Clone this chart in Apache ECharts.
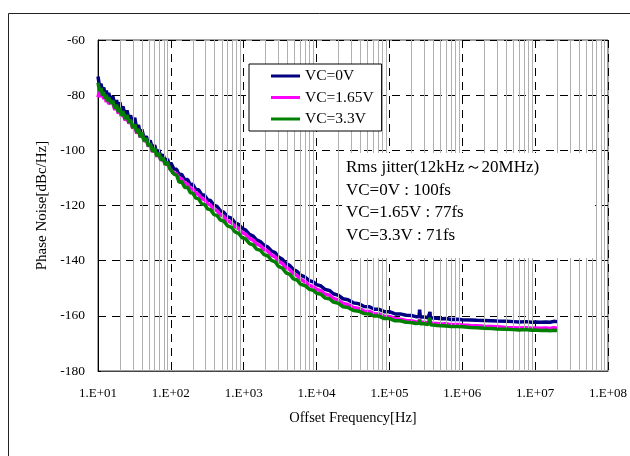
<!DOCTYPE html>
<html><head><meta charset="utf-8">
<script src="https://cdn.jsdelivr.net/npm/echarts@6/dist/echarts.min.js"></script>
<style>html,body{margin:0;padding:0;background:#fff}#c{width:630px;height:456px}</style>
</head><body><div id="c"></div>
<script>
// Offset frequency [Hz]
const freqHz = [
  10, 10.5, 11, 11.5, 12, 12.5, 13, 13.5, 14, 15,
  16, 17, 18, 19, 20, 21, 22, 23.5, 25, 26.5,
  28, 30, 32, 34, 36, 38, 40, 43, 46, 49,
  52, 56, 60, 64, 68, 73, 78, 84, 90, 96,
  100, 110, 120, 130, 140, 155, 170, 185, 200, 220,
  240, 265, 290, 320, 350, 390, 430, 480, 530, 600,
  680, 760, 850, 950, 1050, 1200, 1350, 1500, 1700, 1900,
  2150, 2400, 2700, 3000, 3400, 3800, 4300, 4800, 5400, 6000,
  7000, 8000, 9000, 1e4, 1.15e4, 1.3e4, 1.5e4, 1.7e4, 2e4, 2.3e4,
  2.7e4, 3.2e4, 3.8e4, 4.5e4, 5.3e4, 6.2e4, 7.2e4, 8.5e4, 1e5, 1.2e5,
  1.4e5, 1.7e5, 2e5, 2.3e5, 2.55e5, 2.6e5, 2.65e5, 3e5, 3.4e5, 3.55e5,
  3.6e5, 3.65e5, 4e5, 4.5e5, 5.2e5, 6e5, 7e5, 8.5e5, 1e6, 1.3e6,
  1.6e6, 2e6, 2.5e6, 3e6, 4e6, 5e6, 6e6, 7.5e6, 9e6, 1e7,
  1.2e7, 1.4e7, 1.6e7, 1.8e7, 2e7
];
// Phase noise [dBc/Hz]
const vc0V = [
  -73.2, -76.8, -75.9, -78.6, -77.2, -79.8, -78.3, -80.6, -79.2, -81.9,
  -80.4, -83.5, -81.8, -84.9, -82.6, -85.8, -84.1, -87.2, -85.5, -88.6,
  -87.3, -90.6, -88.2, -92.5, -90.8, -94.1, -92.4, -95.8, -94.9, -97.6,
  -96.4, -99.3, -98.1, -101.2, -99.8, -102.5, -101.5, -103.9, -103.1, -105.6,
  -104.5, -106.8, -106.9, -108.9, -108.6, -110.7, -110.6, -112.5, -112.3, -114.2,
  -114.3, -116.1, -116.3, -118, -118.2, -119.9, -120.3, -122, -122.4, -124.1,
  -124.6, -126.3, -126.8, -128.3, -128.8, -130.5, -131.1, -132.5, -133.1, -134.4,
  -135.1, -136.5, -137.1, -138.7, -139.5, -141, -141.8, -143.2, -143.9, -145.2,
  -146, -147.3, -147.7, -148.7, -149.2, -150.4, -150.8, -152, -152.6, -153.8,
  -154.2, -155.3, -155.6, -156.6, -156.7, -157.6, -157.6, -158.5, -158.5, -159.3,
  -159.3, -159.8, -159.9, -160.3, -160.2, -157.8, -160.4, -160.4, -160.7, -160.6,
  -158.6, -160.7, -160.8, -160.9, -161.1, -161, -161.3, -161.2, -161.4, -161.5,
  -161.6, -161.7, -161.8, -161.9, -162, -162.1, -162.2, -162.1, -162.3, -162.2,
  -162.3, -162.2, -162.3, -162, -162.1
];
const vc165V = [
  -80.8, -78.2, -80.6, -79.1, -81.4, -80.2, -82.5, -81, -83.2, -82.4,
  -83, -85.3, -84.2, -86.7, -85.2, -87.8, -86.4, -89.1, -88, -90.3,
  -89.2, -92.1, -91, -93.9, -92.6, -95.3, -93.7, -96.8, -96, -98.6,
  -97.8, -100.6, -99.6, -102.3, -101.2, -103.7, -102.9, -105.3, -104.6, -106.6,
  -106.2, -108.2, -108.5, -110.1, -110.3, -112, -112.3, -113.9, -114, -115.6,
  -116, -117.5, -117.9, -119.4, -119.8, -121.4, -121.9, -123.4, -123.9, -125.6,
  -126.2, -127.7, -128.3, -129.8, -130.3, -131.9, -132.6, -133.9, -134.6, -135.9,
  -136.6, -138, -138.6, -140.2, -141, -142.5, -143.3, -144.7, -145.4, -146.7,
  -147.7, -149, -149.4, -150.4, -150.9, -152.1, -152.5, -153.7, -154.3, -155.5,
  -155.9, -157, -157.3, -158.3, -158.4, -159.3, -159.3, -160.2, -160.2, -161,
  -161.2, -161.7, -161.8, -162.2, -162.1, -161.2, -162.3, -162.3, -162.6, -162.5,
  -161.8, -162.6, -162.7, -162.8, -163, -162.9, -163.2, -163.1, -163.3, -163.5,
  -163.6, -163.8, -163.9, -164, -164.2, -164.3, -164.4, -164.3, -164.5, -164.4,
  -164.5, -164.4, -164.6, -164.3, -164.5
];
const vc33V = [
  -75.5, -78.6, -77.4, -80.2, -78.8, -81.3, -79.9, -82.2, -80.8, -83,
  -82, -84.8, -83.5, -86.1, -84.6, -87.3, -85.8, -88.6, -87.2, -89.9,
  -88.9, -91.9, -90.6, -93.6, -92.2, -95.2, -93.5, -96.6, -95.6, -98.5,
  -97.5, -100.4, -99.2, -102.1, -100.9, -103.6, -102.6, -105.2, -104.2, -106.5,
  -105.8, -108.6, -109, -111.6, -111.2, -113.5, -113.4, -115.4, -115.5, -117.3,
  -117.6, -119.4, -119.6, -121.3, -121.5, -123.3, -123.6, -125.3, -125.6, -127.4,
  -127.9, -129.6, -130.1, -131.7, -132, -133.8, -134.3, -135.8, -136.3, -137.8,
  -138.3, -139.9, -140.4, -142.1, -142.7, -144.4, -145, -146.6, -147, -148.5,
  -149.1, -150.4, -150.7, -151.8, -152.2, -153.5, -153.8, -155, -155.5, -156.7,
  -157, -158.1, -158.3, -159.2, -159.3, -160.1, -160.1, -161, -161, -161.8,
  -161.8, -162.3, -162.4, -162.8, -162.7, -161.4, -162.9, -162.9, -163.2, -163.1,
  -160.7, -163.2, -163.3, -163.5, -163.6, -163.7, -163.9, -163.9, -164, -164.2,
  -164.3, -164.5, -164.6, -164.8, -164.9, -165, -165.1, -165, -165.2, -165.1,
  -165.3, -165.2, -165.4, -165.2, -165.3
];
const seriesNames = ['VC=0V', 'VC=1.65V', 'VC=3.3V'];
const seriesColors = ['#000080', '#FF00FF', '#008000'];
const jitterLines = ['Rms jitter(12kHz～20MHz)', 'VC=0V : 100fs', 'VC=1.65V : 77fs', 'VC=3.3V : 71fs'];
const xName = 'Offset Frequency[Hz]';
const yName = 'Phase Noise[dBc/Hz]';

const FONT = 'Liberation Serif';
const minorFreqs = [];
for (let d = 1; d < 8; d++) for (let m = 2; m <= 9; m++) minorFreqs.push(m * Math.pow(10, d));
const pts = arr => freqHz.map((f, i) => [f, arr[i]]);

const chart = echarts.init(document.getElementById('c'), null, {renderer: 'canvas'});
chart.setOption({
  backgroundColor: '#fff',
  animation: false,
  grid: {left: 98, right: 18, top: 40, bottom: 85, show: true, borderColor: '#444', borderWidth: 1},
  legend: {
    data: seriesNames, orient: 'vertical', left: 249, top: 64,
    backgroundColor: '#fff', borderColor: '#000', borderWidth: 1, borderRadius: 0,
    padding: [4, 8, 4, 22], itemWidth: 29, itemHeight: 3, itemGap: 5.5, icon: 'rect',
    textStyle: {fontFamily: FONT, fontSize: 15.5, color: '#000'}, z: 10
  },
  xAxis: {
    type: 'log', logBase: 10, min: 10, max: 1e8, splitNumber: 7,
    name: xName, nameLocation: 'middle', nameGap: 40,
    nameTextStyle: {fontFamily: FONT, fontSize: 14.5, color: '#000'},
    axisLine: {show: true, lineStyle: {color: '#444', width: 1}},
    axisTick: {show: false},
    axisLabel: {fontFamily: FONT, fontSize: 13, color: '#000', margin: 16,
      formatter: v => '1.E+' + String(Math.round(Math.log10(v))).padStart(2, '0')},
    splitLine: {show: true, lineStyle: {color: '#000', width: 1, type: [8, 6]}}
  },
  yAxis: {
    type: 'value', min: -180, max: -60, interval: 20,
    name: yName, nameLocation: 'middle', nameGap: 42, nameRotate: 90,
    nameTextStyle: {fontFamily: FONT, fontSize: 15, color: '#000'},
    axisLine: {show: true, lineStyle: {color: '#000', width: 1}},
    axisTick: {show: true, inside: true, length: 3, lineStyle: {color: '#000'}},
    axisLabel: {fontFamily: FONT, fontSize: 13.5, color: '#000', margin: 13},
    splitLine: {show: true, lineStyle: {color: '#000', width: 1, type: [8, 6]}}
  },
  series: [
    {
      name: 'minor', type: 'line', data: [], silent: true, z: 1,
      markLine: {
        silent: true, symbol: ['none', 'none'], label: {show: false}, animation: false,
        lineStyle: {color: '#b0b0b0', type: 'solid', width: 1},
        emphasis: {disabled: true},
        data: minorFreqs.map(v => ({xAxis: v}))
      }
    },
    ...[vc0V, vc165V, vc33V].map((arr, i) => ({
      name: seriesNames[i], type: 'line', data: pts(arr), showSymbol: false, symbol: 'none',
      color: seriesColors[i], lineStyle: {color: seriesColors[i], width: 3.5}, z: 3 + i
    }))
  ],
  graphic: [
    {type: 'rect', silent: true, z: 0, shape: {x: 8.5, y: 13.5, width: 700, height: 500},
     style: {fill: 'none', stroke: '#222', lineWidth: 1}},
    {type: 'rect', silent: true, z: 9, shape: {x: 342, y: 153, width: 253, height: 105},
     style: {fill: '#fff'}},
    {type: 'text', silent: true, z: 10, left: 346, top: 156,
     style: {text: jitterLines.join('\n'), fontFamily: FONT, fontSize: 17, lineHeight: 22.7, fill: '#000'}}
  ]
});
</script></body></html>
